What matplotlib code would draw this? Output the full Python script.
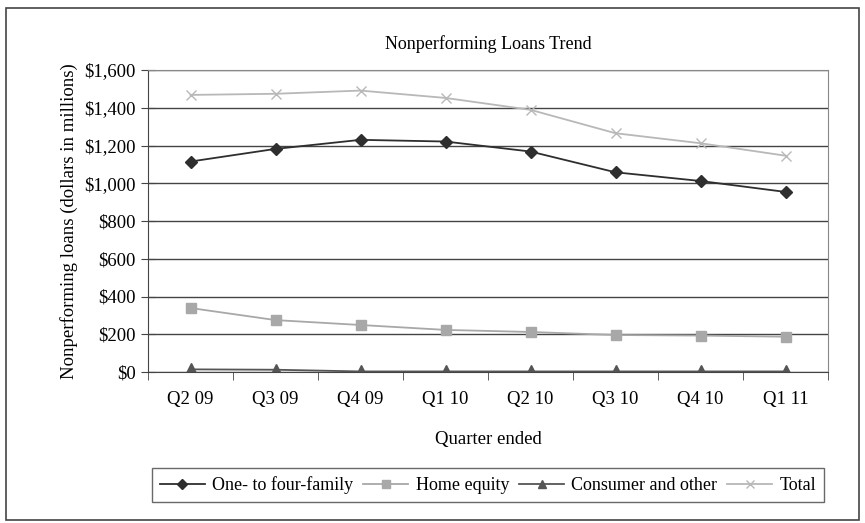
import matplotlib.pyplot as plt
from matplotlib.patches import Rectangle
from matplotlib.ticker import FuncFormatter

quarters = ["Q2 09", "Q3 09", "Q4 09", "Q1 10", "Q2 10", "Q3 10", "Q4 10", "Q1 11"]
one_to_four = [1115, 1182, 1230, 1221, 1168, 1058, 1012, 954]
home_equity = [339, 275, 249, 223, 212, 196, 193, 187]
consumer = [14, 12, 3, 3, 3, 3, 3, 3]
total = [1468, 1474, 1491, 1452, 1389, 1265, 1212, 1146]

plt.rcParams['font.family'] = ['Liberation Serif', 'DejaVu Serif']

fig = plt.figure(figsize=(8.65, 5.23), dpi=100)
# outer frame
fig.patches.append(Rectangle((6 / 865, 3 / 523), 853 / 865, 512 / 523, transform=fig.transFigure,
                             fill=False, edgecolor="#444444", linewidth=1.2))

ax = fig.add_axes([148 / 865, 1 - 372 / 523, 680 / 865, 302 / 523])
x = list(range(len(quarters)))

ax.plot(x, one_to_four, color="#2e2e2e", marker="D", markersize=6, linewidth=1.3, label="One- to four-family")
ax.plot(x, home_equity, color="#a8a8a8", marker="s", markersize=7, linewidth=1.3, label="Home equity")
ax.plot(x, consumer, color="#555555", marker="^", markersize=8, linewidth=1.3, label="Consumer and other")
ax.plot(x, total, color="#b8b8b8", marker="x", markersize=7, linewidth=1.3, label="Total")

ax.set_xlim(-0.5, len(quarters) - 0.5)
ax.set_ylim(0, 1600)
ax.set_yticks(range(0, 1601, 200))
ax.yaxis.set_major_formatter(FuncFormatter(lambda v, p: "$" + format(int(v), ",")))
ax.set_xticks(x)
ax.set_xticklabels(quarters)
ax.set_xticks([i - 0.5 for i in range(len(quarters) + 1)], minor=True)
ax.tick_params(axis="x", which="major", length=0, pad=14, labelsize=13.5)
ax.tick_params(axis="x", which="minor", length=6, color="#444444", direction="out")
ax.tick_params(axis="y", length=10, color="#444444", direction="inout", labelsize=13.5, pad=4)
ax.grid(axis="y", color="#444444", linewidth=1.0)
ax.set_axisbelow(True)
for s in ax.spines.values():
    s.set_color("#444444")
ax.spines["top"].set_color("#888888")
ax.spines["right"].set_color("#888888")

ax.set_title("Nonperforming Loans Trend", fontsize=13, pad=15)
ax.set_xlabel("Quarter ended", fontsize=13.5, labelpad=16)
ax.set_ylabel("Nonperforming loans (dollars in millions)", fontsize=13.5, labelpad=4)

leg = fig.legend(loc="center", bbox_to_anchor=(488 / 865, 1 - 485 / 523), ncol=4, fontsize=13,
                 frameon=True, fancybox=False, edgecolor="#444444", handlelength=2.5,
                 columnspacing=0.55, handletextpad=0.4, borderpad=0.45, markerscale=0.8)
leg.get_frame().set_linewidth(1.0)

fig.savefig("out.png", dpi=100)
